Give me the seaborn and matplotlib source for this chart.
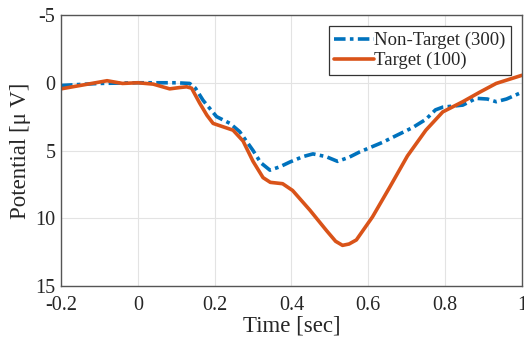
import numpy as np
import pandas as pd
import matplotlib
matplotlib.use("Agg")
import matplotlib.pyplot as plt
import seaborn as sns

# ── Data ──────────────────────────────────────────────────────────────────────
nontarget_t = [-0.2, -0.1, 0.0, 0.05, 0.1, 0.135, 0.15, 0.17, 0.205, 0.24, 0.265,
               0.3, 0.32, 0.344, 0.37, 0.396, 0.43, 0.456, 0.49, 0.52, 0.55,
               0.578, 0.637, 0.68, 0.716, 0.75, 0.775, 0.794, 0.846, 0.881,
               0.91, 0.933, 0.96, 1.0]
nontarget_v = [0.2, 0.05, 0.0, 0.0, 0.0, 0.05, 0.4, 1.3, 2.5, 3.0, 3.6,
               5.0, 5.9, 6.45, 6.2, 5.85, 5.45, 5.25, 5.45, 5.8, 5.5,
               5.1, 4.4, 3.8, 3.3, 2.7, 2.0, 1.8, 1.65, 1.15,
               1.2, 1.4, 1.2, 0.7]

target_t = [-0.2, -0.14, -0.08, -0.04, 0.0, 0.04, 0.083, 0.11, 0.127, 0.14, 0.161,
            0.18, 0.196, 0.222, 0.248, 0.274, 0.3, 0.326, 0.345, 0.377, 0.403,
            0.448, 0.491, 0.515, 0.533, 0.55, 0.569, 0.611, 0.656, 0.702, 0.75,
            0.794, 0.846, 0.89, 0.933, 1.0]
target_v = [0.45, 0.15, -0.15, 0.05, 0.0, 0.1, 0.45, 0.35, 0.3, 0.4, 1.5,
            2.4, 3.0, 3.25, 3.5, 4.3, 5.8, 7.0, 7.35, 7.45, 7.95,
            9.4, 10.9, 11.7, 12.0, 11.9, 11.6, 9.9, 7.7, 5.4, 3.5,
            2.15, 1.4, 0.7, 0.05, -0.55]

labels = ["Non-Target (300)", "Target (100)"]
colors = ["#0072BD", "#D95319"]

df = pd.concat([
    pd.DataFrame({"t": nontarget_t, "v": nontarget_v, "cls": labels[0]}),
    pd.DataFrame({"t": target_t, "v": target_v, "cls": labels[1]}),
])

# ── Plot ──────────────────────────────────────────────────────────────────────
sns.set_style("whitegrid")
plt.rcParams["font.family"] = ["Liberation Serif", "DejaVu Serif"]

fig = plt.figure(figsize=(5.24, 3.45), dpi=100)
ax = fig.add_axes([0.1164, 0.171, 0.8796, 0.7855])

sns.lineplot(data=df, x="t", y="v", hue="cls", style="cls",
             palette=dict(zip(labels, colors)),
             dashes={labels[0]: (3.2, 1.2, 1, 1.2), labels[1]: ""},
             linewidth=2.6, sort=False, estimator=None, ax=ax)

ax.set_xlim(-0.2, 1.0)
ax.set_ylim(15, -5)
ax.set_xticks([-0.2, 0, 0.2, 0.4, 0.6, 0.8, 1.0])
ax.set_xticklabels(["-0.2", "0", "0.2", "0.4", "0.6", "0.8", "1"])
ax.set_yticks([-5, 0, 5, 10, 15])
ax.set_yticklabels(["-5", "0", "5", "10", "15"])
ax.tick_params(labelsize=14.5, direction="in", length=4, width=0.8,
               color="#444444", labelcolor="#262626")
ax.tick_params(axis="x", pad=7.5)
ax.tick_params(axis="y", pad=4)
ax.grid(True, color="#e3e3e3", linewidth=0.8)
for s in ax.spines.values():
    s.set_color("#555555")
    s.set_linewidth(1.0)

ax.set_xlabel("Time [sec]", fontsize=16.5, labelpad=0, color="#262626")
ax.set_ylabel("Potential [\u03bc V]", fontsize=16.5, labelpad=3, color="#262626")

leg = ax.legend(loc="upper right", fontsize=13.5, frameon=True, fancybox=False,
                handlelength=2.1, handletextpad=0.0, borderpad=0.3,
                labelspacing=0.15, borderaxespad=0.6)
leg.get_frame().set_edgecolor("#333333")
leg.get_frame().set_linewidth(0.9)
leg.get_frame().set_alpha(1)

fig.savefig("out.png", dpi=100)
